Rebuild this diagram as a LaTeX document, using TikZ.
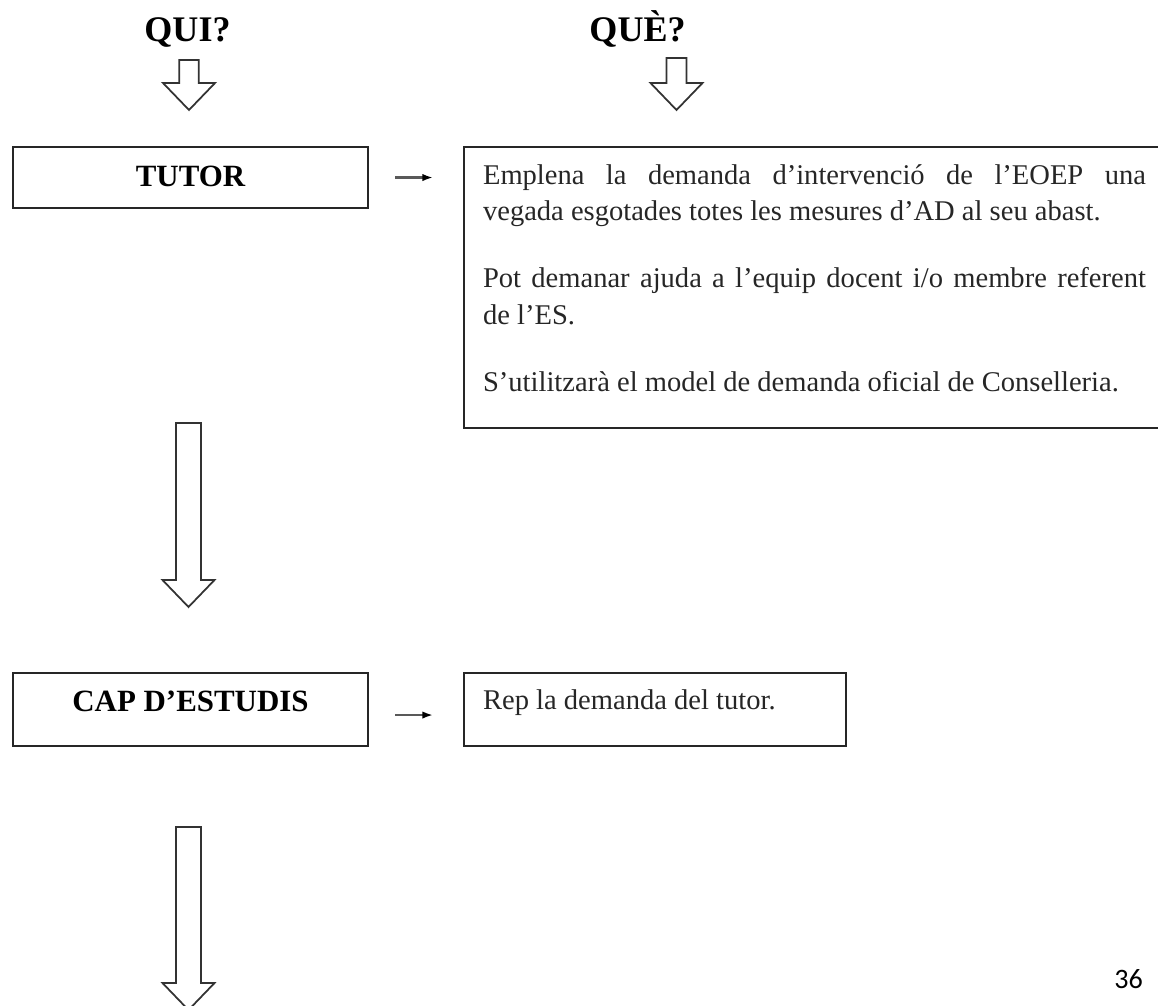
\documentclass[tikz,border=0pt]{standalone}
\usepackage{fontspec}
\setmainfont{Liberation Serif}
\newfontfamily\pagefont{Carlito}
\usetikzlibrary{arrows.meta}

% hollow block arrow pointing down: x, top, tip, half shaft width
\newcommand{\blockdown}[4]{%
  \draw[hollow] (#1-#4,#2) -- (#1+#4,#2) -- (#1+#4,#3-27) -- (#1+26,#3-27)
    -- (#1,#3) -- (#1-26,#3-27) -- (#1-#4,#3-27) -- cycle;}

\begin{document}
\begin{tikzpicture}[x=0.02cm, y=-0.02cm,
    who/.style={draw=black!85, line width=1.2pt, anchor=north west, inner sep=0pt,
      minimum width=7.1cm, font=\fontsize{17.6}{20}\selectfont\bfseries},
    what/.style={draw=black!85, line width=1.2pt, anchor=north west, inner ysep=0pt,
      inner xsep=0.38cm, align=justify, font=\fontsize{16.25}{21}\selectfont, text=black!85},
    head/.style={anchor=base, font=\fontsize{20.5}{24}\selectfont\bfseries},
    hollow/.style={draw=black!80, line width=1pt, fill=white},
    link/.style={draw=black!65, line width=1.2pt, -{Latex[length=6pt,width=4.2pt,black]}},
    ]
    \useasboundingbox (0,0) rectangle (1158,1006);
    \clip (0,0) rectangle (1158,1006);

    \node[head] (qui) at (187.5,42) {QUI?};
    \node[head] (que) at (637.5,42) {QUÈ?};
    \blockdown{189}{60}{110}{9.75}
    \blockdown{676.5}{58}{110}{10}

    \node[who, text height=0.78cm, text depth=0.44cm] (tutor) at (12,146) {TUTOR};
    \node[what, text width=13.26cm, text height=0.74cm, text depth=4.88cm] (desc) at (463,146)
      {\setlength{\parskip}{17pt}%
       Emplena la demanda d’intervenció de l’EOEP una\linebreak
       vegada esgotades totes les mesures d’AD al seu abast.\par
       Pot demanar ajuda a l’equip docent i/o membre referent\linebreak
       de l’ES.\par
       S’utilitzarà el model de demanda oficial de Conselleria.};
    \draw[link, shorten <=0.52cm, shorten >=0.6cm] (tutor.east) -- (tutor.east -| desc.west);

    \blockdown{188.5}{423}{607}{12.5}

    \node[who, text height=0.76cm, text depth=0.70cm] (cap) at (12,672) {CAP D’ESTUDIS};
    \node[what, text width=6.88cm, text height=0.72cm, text depth=0.74cm] (rep) at (463,672)
      {Rep la demanda del tutor.};
    \coordinate (capout) at ([yshift=-0.11cm]cap.east);
    \draw[link, shorten <=0.52cm, shorten >=0.6cm] (capout) -- (capout -| rep.west);

    \blockdown{188.5}{827}{1010}{12.5}

    \node[anchor=base east, font=\pagefont\fontsize{16}{19}\selectfont] (page) at (1149,988) {36};
\end{tikzpicture}
\end{document}
